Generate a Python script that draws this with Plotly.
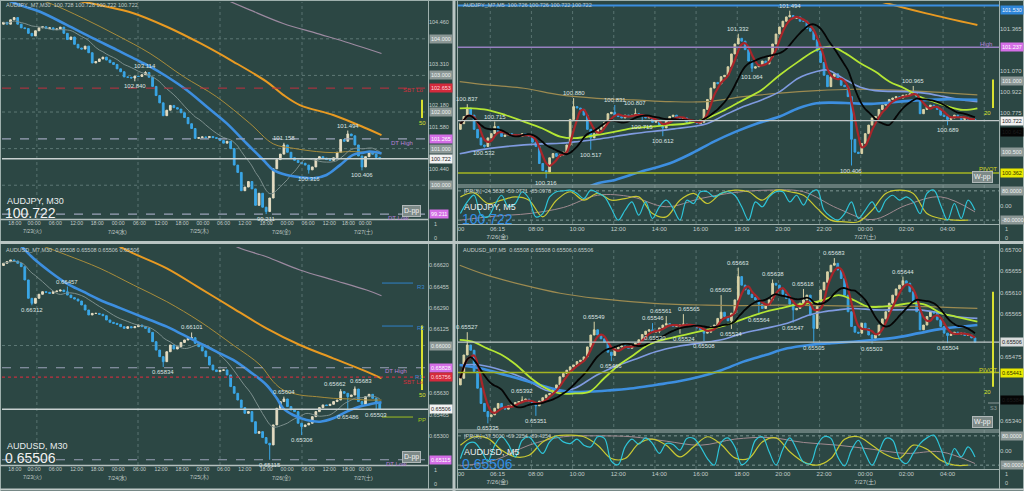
import plotly.graph_objects as go
import pandas as pd

W, H = 1024, 491
BG = '#2c4744'
FONT = 'Liberation Sans, Arial, Noto Sans CJK JP, sans-serif'
TXT = '#c3cdcb'
LBL = '#dde3e2'

# ================= AUDJPY M30 (top-left), hourly-aggregated candles =================
tl_open0 = 104.40
tl_close = [104.45, 104.40, 104.52, 104.58, 104.40, 104.30, 104.28, 104.15, 104.08, 104.22,
            104.30, 104.33, 104.28, 104.30, 104.25, 104.27, 104.32, 104.15, 103.98, 104.05,
            103.85, 103.75, 103.72, 103.80, 103.62, 103.34, 103.38, 103.45, 103.50, 103.42,
            103.35, 103.30, 103.18, 103.10, 102.96, 102.95, 102.93, 102.98, 102.97, 103.02,
            103.08, 102.95, 102.70, 102.45, 102.25, 101.90, 102.05, 102.18, 102.12, 102.08,
            101.98, 101.85, 101.68, 101.55, 101.28, 101.30, 101.32, 101.30, 101.33, 101.30,
            101.28, 101.22, 101.15, 101.20, 101.00, 100.55, 100.35, 99.85, 99.95, 100.10,
            99.90, 99.45, 99.78, 99.40, 99.28, 99.65, 100.45, 100.70, 100.85, 101.10,
            100.90, 100.75, 100.68, 100.62, 100.60, 100.55, 100.42, 100.50, 100.72, 100.78,
            100.74, 100.70, 100.68, 100.75, 100.90, 101.25, 101.20, 101.40, 101.35, 101.10,
            100.80, 100.50, 100.78, 100.88, 100.85, 100.76, 100.722]
tl_hi = {40: 103.114, 79: 101.158, 97: 101.494}
tl_lo = {37: 102.840, 74: 99.211, 86: 100.316, 101: 100.406}
tl_labels = [(40, '103.114', 'hi'), (37, '102.840', 'lo'), (79, '101.158', 'hi'), (86, '100.316', 'lo'),
             (97, '101.494', 'hi'), (101, '100.406', 'lo'), (74, '99.211', 'lo')]
tl_ma_blue_k = [-1, 4.6, 10.3, 17.8, 25.3, 31.9, 38.4, 41.3, 46, 51.6, 57.2, 62.9, 68.5, 73.2, 76, 79.8,
                83.5, 87.3, 91, 94.8, 98.5, 101.4, 103.2, 106.5]
tl_ma_blue = [105.15, 104.92, 104.74, 104.38, 104.01, 103.70, 103.38, 103.24, 102.97, 102.60, 102.15, 101.69,
              101.14, 100.69, 100.42, 100.28, 100.22, 100.19, 100.28, 100.55, 100.83, 100.89, 100.92, 100.87]
tl_ma_gold_k = [0, 8.4, 13.1, 22.5, 31.9, 41.3, 50.7, 60.0, 69.4, 76, 81.6, 88.2, 92.9, 97.6, 106.5]
tl_ma_gold = [105.30, 105.11, 104.97, 104.56, 104.10, 103.60, 102.97, 102.42, 101.69, 101.13, 101.01, 100.92,
              100.89, 100.92, 100.87]
tl_ma_orange_k = [10, 17.8, 27.2, 36.6, 46, 55.4, 64.7, 74.1, 78.8, 83.5, 92.9, 102.3, 106.5]
tl_ma_orange = [105.35, 105.11, 104.92, 104.70, 104.33, 103.88, 103.38, 102.83, 102.47, 102.19, 101.92, 101.55, 101.37]
tl_ma_mauve_k = [55, 62.9, 69.4, 78.8, 88.2, 97.6, 106.5]
tl_ma_mauve = [105.40, 105.06, 104.79, 104.42, 104.15, 103.88, 103.60]
tl_tick_k = [3.2, 8.6, 14.6, 20.6, 26.4, 32.3, 38.3, 44.4, 50.3, 56.2, 62.0, 68.0, 74.0, 79.9, 85.8, 91.8, 97.2, 101.9]
tl_tick_text = ['18:00', '00:00', '06:00', '12:00', '18:00', '00:00', '06:00', '12:00',
                '18:00', '00:00', '06:00', '12:00', '18:00', '00:00', '06:00', '12:00', '18:00', '00:00']
left_date_k = [8.3, 32.0, 55.1, 78.4, 101.3]
left_date_text = ['7/23(火)', '7/24(水)', '7/25(木)', '7/26(金)', '7/27(土)']
tl_price_ticks = [104.460, 103.310, 102.180, 101.580, 100.440]
tl_round_levels = [104.0, 103.0, 102.0, 101.0, 100.0]
left_vgrid_k = [9.4, 37.9, 61.0, 84.1]

# ================= AUDUSD M30 (bottom-left) =================
bl_open0 = 0.66620
bl_close = [0.66637, 0.66650, 0.66663, 0.66655, 0.66637, 0.66611, 0.66508, 0.66366, 0.66327, 0.66366,
            0.66397, 0.66417, 0.66412, 0.66404, 0.66417, 0.66422, 0.66430, 0.66417, 0.66391, 0.66371,
            0.66360, 0.66345, 0.66314, 0.66275, 0.66237, 0.66249, 0.66249, 0.66242, 0.66231, 0.66198,
            0.66180, 0.66172, 0.66164, 0.66146, 0.66133, 0.66146, 0.66138, 0.66146, 0.66159, 0.66146,
            0.66133, 0.66102, 0.66030, 0.65965, 0.65914, 0.65875, 0.65952, 0.66004, 0.65973, 0.65991,
            0.66024, 0.66043, 0.66056, 0.66061, 0.66017, 0.65991, 0.65958, 0.65914, 0.65849, 0.65811,
            0.65798, 0.65808, 0.65811, 0.65772, 0.65682, 0.65630, 0.65578, 0.65519, 0.65475, 0.65488,
            0.65410, 0.65320, 0.65333, 0.65287, 0.65243, 0.65230, 0.65385, 0.65514, 0.65566, 0.65586,
            0.65527, 0.65501, 0.65488, 0.65398, 0.65372, 0.65385, 0.65398, 0.65449, 0.65488, 0.65519,
            0.65540, 0.65535, 0.65545, 0.65566, 0.65578, 0.65643, 0.65630, 0.65604, 0.65617, 0.65663,
            0.65566, 0.65545, 0.65604, 0.65622, 0.65591, 0.65560, 0.65506]
bl_hi = {18: 0.66457, 53: 0.66101, 79: 0.65604, 95: 0.65662, 99: 0.65683}
bl_lo = {8: 0.66312, 45: 0.65834, 75: 0.65115, 84: 0.65306, 97: 0.65486, 105: 0.65503}
bl_labels = [(8, '0.66312', 'lo'), (18, '0.66457', 'hi'), (45, '0.65834', 'lo'), (53, '0.66101', 'hi'),
             (75, '0.65115', 'lo'), (79, '0.65604', 'hi'), (84, '0.65306', 'lo'), (95, '0.65662', 'hi'),
             (99, '0.65683', 'hi'), (97, '0.65486', 'lo'), (105, '0.65503', 'lo')]
bl_ma_blue_k = [1.8, 4.6, 8.4, 13.1, 17.8, 22.5, 27.2, 31.9, 36.6, 41.3, 46, 50.7, 55.4, 60, 64.7, 69.4, 74.1,
                77, 78.8, 81.6, 85.4, 89.2, 92.9, 96.7, 100.4, 103.2, 106.5]
bl_ma_blue = [0.66830, 0.66779, 0.66676, 0.66572, 0.66482, 0.66417, 0.66353, 0.66301, 0.66249, 0.66198,
              0.66146, 0.66082, 0.66017, 0.65953, 0.65888, 0.65798, 0.65694, 0.65591, 0.65513, 0.65462,
              0.65423, 0.65410, 0.65436, 0.65488, 0.65527, 0.65545, 0.65560]
bl_ma_gold_k = [10.3, 17.8, 27.2, 36.6, 46, 55.4, 64.7, 72.3, 76, 78.8, 83.5, 88.2, 92.9, 97.6, 102.3, 106.5]
bl_ma_gold = [0.66779, 0.66701, 0.66598, 0.66469, 0.66340, 0.66185, 0.66004, 0.65849, 0.65720, 0.65656,
              0.65617, 0.65604, 0.65591, 0.65586, 0.65578, 0.65578]
bl_ma_orange_k = [25, 31.9, 36.6, 46, 55.4, 64.7, 74.1, 83.5, 92.9, 102.3, 106.5]
bl_ma_orange = [0.66900, 0.66779, 0.66714, 0.66598, 0.66443, 0.66288, 0.66133, 0.66004, 0.65901, 0.65798, 0.65746]
bl_ma_mauve_k = [60, 64.7, 74.1, 83.5, 92.9, 102.3, 106.5]
bl_ma_mauve = [0.66900, 0.66779, 0.66688, 0.66585, 0.66508, 0.66430, 0.66386]
bl_price_ticks = [0.66620, 0.66455, 0.66290, 0.66125, 0.65630, 0.65465, 0.65300]

# ================= AUDJPY M5 (top-right), 10-minute aggregated candles =================
tr_open0 = 100.66
tr_close = [100.70, 100.75, 100.81, 100.76, 100.66, 100.60, 100.55, 100.54, 100.60, 100.63,
            100.68, 100.64, 100.61, 100.62, 100.63, 100.61, 100.62, 100.61, 100.63, 100.62,
            100.61, 100.57, 100.54, 100.42, 100.37, 100.36, 100.46, 100.49, 100.47, 100.48,
            100.50, 100.55, 100.73, 100.82, 100.81, 100.80, 100.76, 100.66, 100.60, 100.63,
            100.66, 100.68, 100.71, 100.77, 100.78, 100.76, 100.75, 100.74, 100.76, 100.75,
            100.76, 100.77, 100.76, 100.75, 100.74, 100.75, 100.71, 100.72, 100.69, 100.67,
            100.72, 100.75, 100.76, 100.74, 100.73, 100.74, 100.71, 100.72, 100.71, 100.70,
            100.71, 100.80, 100.87, 100.95, 100.99, 100.98, 101.03, 101.04, 101.10, 101.19,
            101.26, 101.30, 101.28, 101.22, 101.14, 101.09, 101.10, 101.11, 101.14, 101.12,
            101.17, 101.26, 101.33, 101.38, 101.42, 101.45, 101.46, 101.44, 101.45, 101.42,
            101.42, 101.37, 101.35, 101.29, 101.21, 101.13, 101.04, 100.96, 101.03, 101.05,
            101.01, 100.97, 100.96, 100.89, 100.59, 100.50, 100.49, 100.56, 100.63, 100.69,
            100.74, 100.75, 100.80, 100.83, 100.84, 100.87, 100.88, 100.89, 100.88, 100.90,
            100.90, 100.91, 100.92, 100.89, 100.77, 100.80, 100.82, 100.83, 100.82, 100.80,
            100.76, 100.75, 100.73, 100.74, 100.76, 100.75, 100.73, 100.74, 100.73, 100.73,
            100.722]
tr_hi = {2: 100.837, 10: 100.715, 33: 100.880, 45: 100.831, 51: 100.807, 81: 101.332, 96: 101.494, 132: 100.965}
tr_lo = {7: 100.532, 25: 100.316, 38: 100.517, 53: 100.715, 59: 100.612, 85: 101.064, 114: 100.406, 142: 100.689}
tr_labels = [(2, '100.837', 'hi'), (7, '100.532', 'lo'), (10, '100.715', 'hi'), (25, '100.316', 'lo'),
             (33, '100.880', 'hi'), (38, '100.517', 'lo'), (45, '100.831', 'hi'), (51, '100.807', 'hi'),
             (53, '100.715', 'lo'), (59, '100.612', 'lo'), (81, '101.332', 'hi'), (85, '101.064', 'lo'),
             (96, '101.494', 'hi'), (114, '100.406', 'lo'), (132, '100.965', 'hi'), (142, '100.689', 'lo')]
tr_ma_lime_k = [-0.2, 3.5, 7.8, 13.1, 18.5, 23.8, 29.1, 33.4, 39.8, 45.1, 50.5, 55.8, 61.1, 66.5, 71.8, 77.1,
                82.5, 87.8, 93.1, 98.5, 103.8, 108.1, 112.3, 116.6, 120.9, 125.1, 129.4, 133.7, 137.9, 142.2,
                146.5, 150.7]
tr_ma_lime = [100.808, 100.808, 100.797, 100.761, 100.715, 100.668, 100.609, 100.598, 100.621, 100.644,
              100.668, 100.679, 100.691, 100.703, 100.738, 100.797, 100.867, 100.937, 101.042, 101.136,
              101.218, 101.241, 101.194, 101.124, 101.066, 100.995, 100.949, 100.890, 100.855, 100.820,
              100.797, 100.808]
tr_ma_peri_k = [-0.2, 5.7, 13.1, 23.8, 29.1, 34.5, 39.8, 50.5, 61.1, 71.8, 77.1, 82.5, 87.8, 93.1, 98.5,
                103.8, 107, 112.3, 116.6, 120.9, 130.5, 135.8, 141.1, 146.5, 150.7]
tr_ma_peri = [100.488, 100.516, 100.539, 100.558, 100.562, 100.575, 100.590, 100.630, 100.660, 100.700,
              100.761, 100.820, 100.867, 100.925, 101.019, 101.066, 101.077, 101.007, 100.956, 100.932,
              100.925, 100.913, 100.890, 100.867, 100.855]
tr_ma_blue_k = [29.1, 38.7, 45.1, 52.6, 61.1, 67.5, 73.9, 80.3, 86.7, 93.1, 98.5, 103.8, 108.1, 114.5, 119.8,
                125.1, 131.5, 141.1, 150.7]
tr_ma_blue = [100.118, 100.270, 100.305, 100.363, 100.422, 100.492, 100.574, 100.644, 100.703, 100.750,
              100.808, 100.843, 100.848, 100.843, 100.839, 100.848, 100.862, 100.871, 100.867]
tr_ma_tan_k = [-0.2, 7.8, 18.5, 29.1, 39.8, 50.5, 61.1, 71.8, 82.5, 93.1, 103.8, 114.5, 125.1, 135.8, 150.7]
tr_ma_tan = [100.995, 100.972, 100.949, 100.902, 100.878, 100.867, 100.855, 100.855, 100.890, 100.914,
             100.932, 100.942, 100.937, 100.925, 100.902]
tr_ma_orange_k = [114.5, 120.9, 135.8, 150.7]
tr_ma_orange = [101.616, 101.569, 101.475, 101.393]
tr_osc_cyan = [-44, 20, 56, -53, -62, 2, 56, -7, 11, 75, 38, -62, -44, 47, 75, 80, 84, 66, 38, 84,
               69, 47, -16, -80, -26, 20, -53, 20, -71, -7, 29, -16, -80, 29, 11, 75, 75, 47, 66, 75,
               56, -7, -80, 20, -7, 47, 75, 75, 20, 56, 2, 66, 84, -26, -62, -80, -44, 20, -71, -26,
               20, -35, 29, 56, 29, 47, 20, -44, 66, 84, 2, -80, 11, -71, 29, -26]
tr_osc_yellow = [47, 69, 11, 29, 47, 29, -62, 29, 75, 29, 66, 29, 38, 47, -44, -62, 29, 66, 11, 66,
                 84, 75, 29, 84, 75, 56, -16, -80, -89, -89, -26, 66, 84, 66, -44, -71, -80, -80]
tr_osc_grey = [-80, -58, -44, -11, 56, 47, -7, 38, 71, 84, 75, -16, -77, 2, 47, -35]
tr_price_ticks = [101.365, 101.070, 100.922, 100.775]

# ================= AUDUSD M5 (bottom-right), 10-minute aggregated candles =================
br_open0 = 0.65416
br_close = [0.65430, 0.65479, 0.65500, 0.65489, 0.65444, 0.65409, 0.65377, 0.65360, 0.65349, 0.65353,
            0.65367, 0.65377, 0.65368, 0.65365, 0.65372, 0.65375, 0.65379, 0.65381, 0.65384, 0.65386,
            0.65381, 0.65375, 0.65372, 0.65382, 0.65389, 0.65395, 0.65398, 0.65407, 0.65416, 0.65433,
            0.65440, 0.65447, 0.65454, 0.65458, 0.65465, 0.65468, 0.65475, 0.65496, 0.65521, 0.65532,
            0.65521, 0.65513, 0.65506, 0.65485, 0.65478, 0.65492, 0.65496, 0.65498, 0.65496, 0.65493,
            0.65500, 0.65504, 0.65511, 0.65522, 0.65529, 0.65532, 0.65527, 0.65529, 0.65536, 0.65542,
            0.65545, 0.65542, 0.65539, 0.65541, 0.65542, 0.65544, 0.65542, 0.65541, 0.65539, 0.65536,
            0.65532, 0.65525, 0.65527, 0.65539, 0.65542, 0.65556, 0.65569, 0.65560, 0.65551, 0.65567,
            0.65595, 0.65644, 0.65626, 0.65616, 0.65607, 0.65600, 0.65595, 0.65586, 0.65577, 0.65584,
            0.65595, 0.65630, 0.65626, 0.65616, 0.65607, 0.65598, 0.65586, 0.65574, 0.65577, 0.65588,
            0.65595, 0.65605, 0.65563, 0.65535, 0.65591, 0.65616, 0.65632, 0.65654, 0.65668, 0.65672,
            0.65658, 0.65640, 0.65605, 0.65570, 0.65539, 0.65527, 0.65525, 0.65546, 0.65535, 0.65521,
            0.65514, 0.65521, 0.65542, 0.65555, 0.65570, 0.65588, 0.65605, 0.65618, 0.65626, 0.65635,
            0.65630, 0.65612, 0.65591, 0.65570, 0.65532, 0.65542, 0.65560, 0.65570, 0.65567, 0.65553,
            0.65539, 0.65525, 0.65520, 0.65523, 0.65527, 0.65523, 0.65525, 0.65520, 0.65521, 0.65515,
            0.65506]
br_hi = {2: 0.65527, 18: 0.65392, 39: 0.65549, 56: 0.65546, 60: 0.65561, 65: 0.65565, 76: 0.65605,
         81: 0.65663, 91: 0.65638, 100: 0.65618, 109: 0.65683, 129: 0.65644}
br_lo = {8: 0.65335, 22: 0.65351, 44: 0.65466, 58: 0.65525, 64: 0.65524, 71: 0.65508, 79: 0.65534,
         87: 0.65564, 97: 0.65547, 103: 0.65505, 120: 0.65503, 142: 0.65504}
br_labels = [(2, '0.65527', 'hi'), (8, '0.65335', 'lo'), (18, '0.65392', 'hi'), (22, '0.65351', 'lo'),
             (39, '0.65549', 'hi'), (44, '0.65466', 'lo'), (56, '0.65546', 'hi'), (58, '0.65530', 'lo'),
             (60, '0.65561', 'hi'), (64, '0.65524', 'lo'), (65, '0.65565', 'hi'), (71, '0.65508', 'lo'),
             (76, '0.65605', 'hi'), (79, '0.65534', 'lo'), (81, '0.65663', 'hi'), (87, '0.65564', 'lo'),
             (91, '0.65638', 'hi'), (97, '0.65547', 'lo'), (100, '0.65618', 'hi'), (103, '0.65505', 'lo'),
             (109, '0.65683', 'hi'), (120, '0.65503', 'lo'), (129, '0.65644', 'hi'), (142, '0.65504', 'lo')]
br_ma_lime_k = [-0.2, 3.5, 7.8, 12.1, 16.3, 20.6, 24.9, 29.1, 33.4, 37.7, 41.9, 46.2, 50.5, 54.7, 59, 63.3,
                67.5, 71.8, 76.1, 80.3, 84.6, 88.9, 93.1, 97.4, 101.7, 105.9, 110.2, 114.5, 118.7, 123,
                127.3, 131.5, 135.8, 140.1, 144.3, 150.7]
br_ma_lime = [0.65511, 0.65507, 0.65493, 0.65479, 0.65458, 0.65430, 0.65409, 0.65398, 0.65398, 0.65402,
              0.65430, 0.65458, 0.65479, 0.65500, 0.65511, 0.65518, 0.65525, 0.65532, 0.65539, 0.65549,
              0.65560, 0.65570, 0.65577, 0.65584, 0.65588, 0.65595, 0.65605, 0.65595, 0.65581, 0.65581,
              0.65584, 0.65588, 0.65584, 0.65567, 0.65560, 0.65549]
br_ma_peri_k = [-0.2, 5.7, 12.1, 18.5, 24.9, 29.1, 33.4, 39.8, 45.1, 50.5, 56.9, 63.3, 69.7, 76.1, 82.5,
                88.9, 95.3, 101.7, 105.9, 110.2, 114.5, 120.9, 127.3, 133.7, 137.9, 144.3, 150.7]
br_ma_peri = [0.65458, 0.65458, 0.65447, 0.65430, 0.65405, 0.65402, 0.65409, 0.65437, 0.65455, 0.65469,
              0.65486, 0.65497, 0.65504, 0.65511, 0.65525, 0.65535, 0.65546, 0.65563, 0.65570, 0.65574,
              0.65577, 0.65574, 0.65574, 0.65574, 0.65570, 0.65560, 0.65556]
br_ma_blue_k = [-0.2, 5.7, 13.1, 18.5, 24.9, 31.3, 37.7, 44.1, 50.5, 56.9, 63.3, 69.7, 76.1, 82.5, 88.9,
                95.3, 101.7, 108.1, 114.5, 120.9, 127.3, 133.7, 140.1, 146.5, 150.7]
br_ma_blue = [0.65458, 0.65451, 0.65437, 0.65426, 0.65412, 0.65402, 0.65402, 0.65405, 0.65409, 0.65416,
              0.65423, 0.65433, 0.65447, 0.65465, 0.65479, 0.65493, 0.65500, 0.65504, 0.65507, 0.65511,
              0.65516, 0.65525, 0.65534, 0.65539, 0.65542]
br_ma_tan_k = [-0.2, 7.8, 18.5, 29.1, 39.8, 50.5, 61.1, 71.8, 82.5, 93.1, 103.8, 114.5, 125.1, 135.8, 150.7]
br_ma_tan = [0.65668, 0.65647, 0.65626, 0.65609, 0.65598, 0.65591, 0.65586, 0.65584, 0.65583, 0.65584,
             0.65583, 0.65582, 0.65581, 0.65581, 0.65577]
br_osc_cyan = [-44, 35, 44, 2, -58, 29, 75, 33, -35, 56, 73, 29, -16, 47, 75, 47, 38, 62, 29, 20,
               75, 66, -58, -77, 20, 62, 35, 69, 38, -16, 38, 33, 2, 66, 66, 20, -44, -80, 44, 69,
               20, -77, -47, 56, 75, -7, -80, 7, 69, 7, -62, -71, 29, 75, 66, -35, -84, 2, 56, -16,
               -80, -7, 66, 56, -44, -71, -16, 38, 69, 84, 11, -80, 11, -35, 20, -35]
br_osc_yellow = [29, 75, 66, 2, -35, -26, 47, 80, 84, 75, 29, -44, -44, 38, 62, 29, -35, 20, 75, 33,
                 -40, -44, 47, 69, -7, -62, -80, -44, 62, 75, 29, -22, -44, 29, 7, -53, -80, -80]
br_osc_grey = [-84, -53, 29, 75, 80, 75, 51, 29, 62, 71, 44, 29, 7, -16, -7, -71]
br_price_ticks = [0.65700, 0.65655, 0.65610, 0.65565, 0.65475, 0.65340]

right_tick_k = [0.2, 10.8, 22, 34, 46, 58, 70, 82, 94, 106, 118, 130, 142]
right_tick_text = ['00', '06:15<br>7/26(金)', '08:00', '10:00', '12:00', '14:00', '16:00', '18:00', '20:00',
                   '22:00', '00:00<br>7/27(土)', '02:00', '04:00']
right_grid_hours = [6, 8, 10, 12, 14, 16, 18, 20, 22, 24, 26, 28, 30]

# label nudges (pixels) so that neighbouring price labels do not collide
bl_label_nudge = {95: -6, 99: 6}
br_label_nudge = {58: -4, 64: 4, 60: -5, 65: 6}

# ================= helpers =================
fig = go.Figure()
annots, shapes = [], []


def fx(p):
    return p / W


def fy(p):
    return 1 - p / H


def candles(close, open0, hi, lo):
    o = [open0] + close[:-1]
    h = [max(a, c, hi.get(i, c)) for i, (a, c) in enumerate(zip(o, close))]
    l = [min(a, c, lo.get(i, c)) for i, (a, c) in enumerate(zip(o, close))]
    return o, h, l


def add_candles(close, open0, hi, lo, xa, ya, up, dn):
    o, h, l = candles(close, open0, hi, lo)
    fig.add_trace(go.Candlestick(
        x=list(range(len(close))), open=o, high=h, low=l, close=close,
        xaxis=xa, yaxis=ya, whiskerwidth=0,
        increasing=dict(line=dict(color=up, width=1), fillcolor=up),
        decreasing=dict(line=dict(color=dn, width=1), fillcolor=dn),
        hoverinfo='skip', showlegend=False))
    return h, l


def add_line(x, y, xa, ya, color, width, shape='spline'):
    fig.add_trace(go.Scatter(x=x, y=y, xaxis=xa, yaxis=ya, mode='lines',
                             line=dict(color=color, width=width, shape=shape),
                             hoverinfo='skip', showlegend=False))


def sma(vals, n):
    return pd.Series(vals).rolling(n, min_periods=1).mean().tolist()


def ptext(xp, yp, s, size=6, color=TXT, xanchor='left', bg=None, border=None):
    d = dict(x=fx(xp), y=fy(yp), xref='paper', yref='paper', text=s, showarrow=False,
             xanchor=xanchor, yanchor='middle', font=dict(size=size, color=color, family=FONT))
    if bg:
        d.update(bgcolor=bg, borderpad=1)
    if border:
        d.update(bordercolor=border, borderwidth=1)
    annots.append(d)


def pbox(xp, yref, price, s, bg, fg, size=5.5):
    annots.append(dict(x=fx(xp), y=price, xref='paper', yref=yref, text=s, showarrow=False,
                       xanchor='left', yanchor='middle', bgcolor=bg, borderpad=1,
                       font=dict(size=size, color=fg, family=FONT)))


def ext_labels(labels, h, l, xref, yref, nudge=None):
    nudge = nudge or {}
    for k, s, side in labels:
        y = h[k] if side == 'hi' else l[k]
        annots.append(dict(x=k, y=y, xref=xref, yref=yref, text=s, showarrow=False,
                           xshift=nudge.get(k, 0),
                           yanchor='bottom' if side == 'hi' else 'top',
                           font=dict(size=6, color=LBL, family=FONT)))


def date_labels(xref, yp):
    for k, s in zip(left_date_k, left_date_text):
        annots.append(dict(x=k, y=fy(yp), xref=xref, yref='paper', text=s, showarrow=False,
                           xanchor='center', yanchor='middle', font=dict(size=5.2, color=TXT, family=FONT)))


def hlev(yref, price, x0, x1, color, width=1, dash='solid', layer='above'):
    shapes.append(dict(type='line', xref='paper', yref=yref, x0=fx(x0), x1=fx(x1), y0=price, y1=price,
                       line=dict(color=color, width=width, dash=dash), layer=layer))


def pline(x0, y0, x1, y1, color, width=1, dash='solid'):
    shapes.append(dict(type='line', xref='paper', yref='paper', x0=fx(x0), y0=fy(y0), x1=fx(x1), y1=fy(y1),
                       line=dict(color=color, width=width, dash=dash)))


def vgrid(xref, k, y0, y1, color='#587370'):
    shapes.append(dict(type='line', xref=xref, yref='paper', x0=k, x1=k, y0=fy(y1), y1=fy(y0),
                       line=dict(color=color, width=1, dash='dot'), layer='below'))


def pipbar(xp, yref, p0, p1, color):
    shapes.append(dict(type='line', xref='paper', yref=yref, x0=fx(xp), x1=fx(xp), y0=p0, y1=p1,
                       line=dict(color=color, width=2)))


UP_L, DN_L = '#e4dcc2', '#3aa6e6'
UP_R, DN_R = '#d9d2a6', '#38a3e3'
C_BLUE, C_GOLD, C_ORANGE, C_MAUVE, C_GREY = '#3d8fe0', '#a88c3a', '#e89a22', '#9c8aa0', '#7c8f8d'
C_LIME, C_PERI, C_TAN, C_BLACK, C_RED = '#b4e634', '#7f9be0', '#9c8a50', '#050505', '#a8262a'

# ================= top-left =================
for k in left_vgrid_k:
    vgrid('x', k, 2, 219)
for lv in tl_round_levels:
    hlev('y', lv, 2, 428, '#5e7875', 1, 'dot', 'below')
tl_h, tl_l = add_candles(tl_close, tl_open0, tl_hi, tl_lo, 'x', 'y', UP_L, DN_L)
tl_idx = list(range(len(tl_close)))
add_line(tl_ma_mauve_k, tl_ma_mauve, 'x', 'y', C_MAUVE, 1.2)
add_line(tl_ma_orange_k, tl_ma_orange, 'x', 'y', C_ORANGE, 2)
add_line(tl_ma_gold_k, tl_ma_gold, 'x', 'y', C_GOLD, 1)
add_line(tl_idx, sma(tl_close, 10), 'x', 'y', C_GREY, 1)
add_line(tl_ma_blue_k, tl_ma_blue, 'x', 'y', C_BLUE, 2.6)
ext_labels(tl_labels, tl_h, tl_l, 'x', 'y')
hlev('y', 102.653, 2, 428, '#c2303e', 1, 'dash')
hlev('y', 101.265, 2, 428, '#9aa3b8', 1.2, 'dash')
hlev('y', 100.722, 2, 428, '#c8d0d0', 1.5)
hlev('y', 99.211, 2, 428, '#9aa3b8', 1.2, 'dash')
for lv in tl_round_levels:
    pbox(429, 'y', lv, f'{lv:.3f}', '#8c9896', '#eef2f2')
pbox(429, 'y', 102.653, '102.653', '#d42a3c', '#ffd8dc')
pbox(429, 'y', 101.265, '101.265', '#d46ee6', '#ffffff')
pbox(429, 'y', 100.722, '100.722', '#f2f2f2', '#222222')
pbox(429, 'y', 99.211, '99.211', '#d46ee6', '#ffffff')
pipbar(422, 'y', 101.837, 102.337, '#d8e030')
annots.append(dict(x=fx(422), y=101.837, xref='paper', yref='y', text='50', showarrow=False, yanchor='top',
                   font=dict(size=6, color='#d8e030', family=FONT)))
ptext(426, 90, 'SBT Lo', 6, '#d0303c', 'right')
ptext(415, 143, 'DT High', 6, '#b882d8', 'right')
ptext(411, 218, 'DT Low', 6, '#b882d8', 'right')
ptext(411, 211, 'D-pp', 7, '#f0f0f0', 'center', '#7d8a88', '#b0b8b8')
ptext(4, 5, 'AUDJPY_M7,M30  100.728 100.728 100.722 100.722', 5.5, TXT)
ptext(5, 201, 'AUDJPY, M30', 9, '#e8ecec')
ptext(3, 213, '100.722', 14, '#f2f2f2')
date_labels('x', 231)
ptext(432, 224, '1', 5.5, TXT)
ptext(432, 238, '0', 5.5, TXT)

# ================= bottom-left =================
for k in left_vgrid_k:
    vgrid('x4', k, 247, 465)
hlev('y4', 0.66000, 2, 428, '#5e7875', 1, 'dot', 'below')
bl_h, bl_l = add_candles(bl_close, bl_open0, bl_hi, bl_lo, 'x4', 'y4', UP_L, DN_L)
bl_idx = list(range(len(bl_close)))
add_line(bl_ma_mauve_k, bl_ma_mauve, 'x4', 'y4', C_MAUVE, 1.2)
add_line(bl_ma_orange_k, bl_ma_orange, 'x4', 'y4', C_ORANGE, 2)
add_line(bl_ma_gold_k, bl_ma_gold, 'x4', 'y4', C_GOLD, 1)
add_line(bl_idx, sma(bl_close, 10), 'x4', 'y4', C_GREY, 1)
add_line(bl_ma_blue_k, bl_ma_blue, 'x4', 'y4', C_BLUE, 2.6)
ext_labels(bl_labels, bl_h, bl_l, 'x4', 'y4', bl_label_nudge)
hlev('y4', 0.65828, 2, 428, '#9aa3b8', 1.2, 'dash')
hlev('y4', 0.65756, 2, 428, '#c2303e', 1.2, 'dot')
hlev('y4', 0.65506, 2, 428, '#c8d0d0', 1.5)
hlev('y4', 0.65115, 2, 428, '#9aa3b8', 1.2, 'dash')
hlev('y4', 0.66484, 382, 413, '#3080c8', 1)
hlev('y4', 0.66151, 382, 413, '#3080c8', 1)
hlev('y4', 0.65446, 382, 413, '#a0c020', 1)
pbox(429, 'y4', 0.66000, '0.66000', '#8c9896', '#eef2f2')
pbox(429, 'y4', 0.65828, '0.65828', '#d46ee6', '#ffffff')
pbox(429, 'y4', 0.65756, '0.65756', '#d42a3c', '#ffd8dc')
pbox(429, 'y4', 0.65506, '0.65506', '#f2f2f2', '#222222')
pbox(429, 'y4', 0.65115, '0.65115', '#d46ee6', '#ffffff')
pipbar(422, 'y4', 0.65656, 0.66156, '#d8e030')
annots.append(dict(x=fx(422), y=0.65656, xref='paper', yref='y4', text='50', showarrow=False, yanchor='top',
                   font=dict(size=6, color='#d8e030', family=FONT)))
ptext(415, 287, 'R3', 6, '#3a86cc')
ptext(415, 328, 'R2', 6, '#3a86cc')
ptext(413, 377, 'R1', 6, '#3a86cc')
ptext(426, 382, 'SBT Lo', 6, '#d0303c', 'right')
ptext(409, 371, 'DT High', 6, '#b882d8', 'right')
ptext(416, 420, 'PP', 6, '#a8c820')
ptext(411, 457, 'D-pp', 7, '#f0f0f0', 'center', '#7d8a88', '#b0b8b8')
ptext(409, 464, 'DT Low', 6, '#b882d8', 'right')
ptext(4, 250, 'AUDUSD_M7,M30  0.65508 0.65508 0.65506 0.65506', 5.5, TXT)
ptext(5, 446, 'AUDUSD, M30', 9, '#e8ecec')
ptext(3, 458, '0.65506', 14, '#f2f2f2')
date_labels('x4', 477)
ptext(432, 470, '1', 5.5, TXT)
ptext(432, 484, '0', 5.5, TXT)

# ================= top-right =================
grid_k = [(t - 4.333) * 6 - 1.3 for t in right_grid_hours]
for k in grid_k:
    vgrid('x2', k, 3, 224)
tr_h, tr_l = add_candles(tr_close, tr_open0, tr_hi, tr_lo, 'x2', 'y2', UP_R, DN_R)
tr_idx = list(range(len(tr_close)))
add_line(tr_ma_tan_k, tr_ma_tan, 'x2', 'y2', C_TAN, 1.2)
add_line(tr_ma_orange_k, tr_ma_orange, 'x2', 'y2', C_ORANGE, 2)
add_line(tr_ma_peri_k, tr_ma_peri, 'x2', 'y2', C_PERI, 1.6)
add_line(tr_ma_blue_k, tr_ma_blue, 'x2', 'y2', C_BLUE, 2.6)
add_line(tr_ma_lime_k, tr_ma_lime, 'x2', 'y2', C_LIME, 1.8)
add_line(tr_idx, sma(tr_close, 4), 'x2', 'y2', C_RED, 2.2)
add_line(tr_idx, sma(tr_close, 12), 'x2', 'y2', C_BLACK, 1.8)
ext_labels(tr_labels, tr_h, tr_l, 'x2', 'y2')
hlev('y2', 101.530, 458, 999, '#3a8ee0', 2)
hlev('y2', 101.237, 458, 999, '#9680c0', 1.5)
hlev('y2', 100.722, 458, 999, '#c0c8c8', 1.2)
hlev('y2', 100.354, 458, 999, '#a4b422', 1.5)
pbox(1000, 'y2', 101.500, '101.530', '#2f86d8', '#e8f2ff')
pbox(1000, 'y2', 101.237, '101.237', '#d46ee6', '#ffffff')
pbox(1000, 'y2', 101.000, '101.000', '#8c9896', '#eef2f2')
pbox(1000, 'y2', 100.722, '100.722', '#f2f2f2', '#222222')
pbox(1000, 'y2', 100.642, '100.642', '#050505', '#1c1c1c')
pbox(1000, 'y2', 100.500, '100.500', '#8c9896', '#eef2f2')
pbox(1000, 'y2', 100.354, '100.362', '#e8e800', '#303000')
pipbar(993, 'y2', 100.810, 101.010, '#d8e030')
annots.append(dict(x=fx(993), y=100.810, xref='paper', yref='y2', text='20', showarrow=False, yanchor='top',
                   font=dict(size=6, color='#d8e030', family=FONT)))
ptext(994, 44, 'High', 6, '#b882d8', 'right')
ptext(999, 169, 'PIVOT', 6, '#d8d820', 'right')
ptext(982, 177, 'W-pp', 7, '#f0f0f0', 'center', '#7d8a88', '#b0b8b8')
ptext(461, 5, 'AUDJPY_M7,M5  100.726 100.726 100.722 100.722', 5.5, TXT)
# oscillator
hlev('y3', 80, 458, 999, '#7f9794', 1, 'dot', 'below')
hlev('y3', -80, 458, 999, '#7f9794', 1, 'dot', 'below')
add_line(list(range(0, 10 * len(tr_osc_grey), 10)), tr_osc_grey, 'x3', 'y3', '#a08a90', 1)
add_line(list(range(0, 4 * len(tr_osc_yellow), 4)), tr_osc_yellow, 'x3', 'y3', '#c8c832', 1.2)
add_line(list(range(0, 2 * len(tr_osc_cyan), 2)), tr_osc_cyan, 'x3', 'y3', '#2ec4d8', 1.2)
pbox(1000, 'y3', 80, '80.0000', '#8c9896', '#eef2f2')
pbox(1000, 'y3', -80, '-80.0000', '#8c9896', '#eef2f2')
ptext(462, 191, '[PR(3)] -24.5838 -50.0771 -85.0978', 5.5, TXT)
ptext(462, 207, 'AUDJPY, M5', 9, '#e8ecec')
ptext(460, 219, '100.722', 14, '#2f8de4')
ptext(1003, 229, '1', 5.5, TXT)
ptext(1003, 238, '0', 5.5, TXT)

# ================= bottom-right =================
for k in grid_k:
    vgrid('x5', k, 248, 469)
br_h, br_l = add_candles(br_close, br_open0, br_hi, br_lo, 'x5', 'y5', UP_R, DN_R)
br_idx = list(range(len(br_close)))
add_line(br_ma_tan_k, br_ma_tan, 'x5', 'y5', C_TAN, 1.2)
add_line(br_ma_peri_k, br_ma_peri, 'x5', 'y5', C_PERI, 1.6)
add_line(br_ma_blue_k, br_ma_blue, 'x5', 'y5', C_BLUE, 2.6)
add_line(br_ma_lime_k, br_ma_lime, 'x5', 'y5', C_LIME, 1.8)
add_line(br_idx, sma(br_close, 4), 'x5', 'y5', C_RED, 2.2)
add_line(br_idx, sma(br_close, 12), 'x5', 'y5', C_BLACK, 1.8)
ext_labels(br_labels, br_h, br_l, 'x5', 'y5', br_label_nudge)
hlev('y5', 0.65506, 458, 999, '#c0c8c8', 1.2)
hlev('y5', 0.65442, 458, 999, '#a4b422', 1.5)
pbox(1000, 'y5', 0.65506, '0.65506', '#d8dcdc', '#222222')
pbox(1000, 'y5', 0.65442, '0.65441', '#e8e800', '#303000')
pbox(1000, 'y5', 0.65384, '0.65384', '#050505', '#1c1c1c')
pipbar(993, 'y5', 0.65412, 0.65612, '#d8e030')
annots.append(dict(x=fx(993), y=0.65412, xref='paper', yref='y5', text='20', showarrow=False, yanchor='top',
                   font=dict(size=6, color='#d8e030', family=FONT)))
ptext(999, 370, 'PIVOT', 6, '#d8d820', 'right')
ptext(982, 422, 'W-pp', 7, '#f0f0f0', 'center', '#7d8a88', '#b0b8b8')
pline(988, 403, 999, 403, '#8a9a98', 1)
ptext(999, 408, 'S3', 5.5, '#8a9a98', 'right')
ptext(461, 250, 'AUDUSD_M7,M5  0.65508 0.65508 0.65506 0.65506', 5.5, TXT)
hlev('y6', 80, 458, 999, '#7f9794', 1, 'dot', 'below')
hlev('y6', -80, 458, 999, '#7f9794', 1, 'dot', 'below')
add_line(list(range(0, 10 * len(br_osc_grey), 10)), br_osc_grey, 'x6', 'y6', '#a08a90', 1)
add_line(list(range(0, 4 * len(br_osc_yellow), 4)), br_osc_yellow, 'x6', 'y6', '#c8c832', 1.2)
add_line(list(range(0, 2 * len(br_osc_cyan), 2)), br_osc_cyan, 'x6', 'y6', '#2ec4d8', 1.2)
pbox(1000, 'y6', 80, '80.0000', '#8c9896', '#eef2f2')
pbox(1000, 'y6', -80, '-80.0000', '#8c9896', '#eef2f2')
ptext(462, 436, '[PR(3)] -37.5000 -69.2254 -89.4254', 5.5, TXT)
ptext(462, 452, 'AUDUSD, M5', 9, '#e8ecec')
ptext(460, 464, '0.65506', 14, '#2f8de4')
ptext(1003, 474, '1', 5.5, TXT)
ptext(1003, 483, '0', 5.5, TXT)

# ================= frames =================
FR = '#9fb0ad'
pline(0, 0.5, 1024, 0.5, FR, 1)
pline(0.5, 0, 0.5, 491, FR, 1)
pline(1023.5, 0, 1023.5, 491, FR, 1)
pline(0, 489.5, 1024, 489.5, '#c0cac8', 2)
pline(454, 0, 454, 491, '#b9c5c3', 3)
pline(0, 242.5, 1024, 242.5, '#b9c5c3', 3)
for top, bot in [(0, 241), (244, 489)]:
    pline(428.5, top, 428.5, bot, FR, 1)
    pline(457.5, top, 457.5, bot, FR, 1)
    pline(999.5, top, 999.5, bot, FR, 1)
pline(0, 219.5, 428, 219.5, '#b4c0be', 1.5)
pline(0, 465.5, 428, 465.5, '#b4c0be', 1.5)
for yy in (185, 187, 224.5, 430, 432, 469.5):
    pline(457.5, yy, 999.5, yy, FR, 1)

# ================= layout =================
base = dict(showgrid=False, zeroline=False, showline=False, ticks='', fixedrange=True)
tfl = dict(size=5.5, color=TXT, family=FONT)
tfx = dict(size=5.2, color=TXT, family=FONT)
tfr = dict(size=6, color=TXT, family=FONT)


def yticks(vals, fmt):
    return dict(tickvals=vals, ticktext=[fmt.format(v) for v in vals])


fig.update_layout(
    width=W, height=H, autosize=False, margin=dict(l=0, r=0, t=0, b=0),
    paper_bgcolor=BG, plot_bgcolor=BG, showlegend=False, hovermode=False,
    xaxis=dict(domain=[fx(2), fx(428)], range=[-0.42, 119.6], anchor='y', tickvals=tl_tick_k, tickangle=0,
               ticktext=tl_tick_text, tickfont=tfx, rangeslider=dict(visible=False), **base),
    yaxis=dict(domain=[fy(219), fy(2)], range=[99.077, 105.006], anchor='x', side='right', tickfont=tfl,
               **yticks(tl_price_ticks, '{:.3f}'), **base),
    xaxis2=dict(domain=[fx(458), fx(999)], range=[-0.7, 157.0], anchor='y2', showticklabels=False,
                rangeslider=dict(visible=False), **base),
    yaxis2=dict(domain=[fy(185), fy(3)], range=[100.269, 101.548], anchor='x2', side='right', tickfont=tfr,
                **yticks(tr_price_ticks, '{:.3f}'), **base),
    xaxis3=dict(domain=[fx(458), fx(999)], range=[-0.7, 157.0], anchor='y3', tickvals=right_tick_k, tickangle=0,
                ticktext=right_tick_text, tickfont=tfr, rangeslider=dict(visible=False), **base),
    yaxis3=dict(domain=[fy(224), fy(187)], range=[-101, 101], anchor='x3', side='right', tickfont=tfr,
                tickvals=[0], ticktext=['0.00'], **base),
    xaxis4=dict(domain=[fx(2), fx(428)], range=[-0.42, 119.6], anchor='y4', tickvals=tl_tick_k, tickangle=0,
                ticktext=tl_tick_text, tickfont=tfx, rangeslider=dict(visible=False), **base),
    yaxis4=dict(domain=[fy(465), fy(247)], range=[0.650745, 0.667633], anchor='x4', side='right', tickfont=tfl,
                **yticks(bl_price_ticks, '{:.5f}'), **base),
    xaxis5=dict(domain=[fx(458), fx(999)], range=[-0.7, 157.0], anchor='y5', showticklabels=False,
                rangeslider=dict(visible=False), **base),
    yaxis5=dict(domain=[fy(430), fy(248)], range=[0.653211, 0.657042], anchor='x5', side='right', tickfont=tfr,
                **yticks(br_price_ticks, '{:.5f}'), **base),
    xaxis6=dict(domain=[fx(458), fx(999)], range=[-0.7, 157.0], anchor='y6', tickvals=right_tick_k, tickangle=0,
                ticktext=right_tick_text, tickfont=tfr, rangeslider=dict(visible=False), **base),
    yaxis6=dict(domain=[fy(469), fy(432)], range=[-101, 101], anchor='x6', side='right', tickfont=tfr,
                tickvals=[0], ticktext=['0.00'], **base),
    annotations=annots, shapes=shapes,
)

fig.write_html('out.html')
